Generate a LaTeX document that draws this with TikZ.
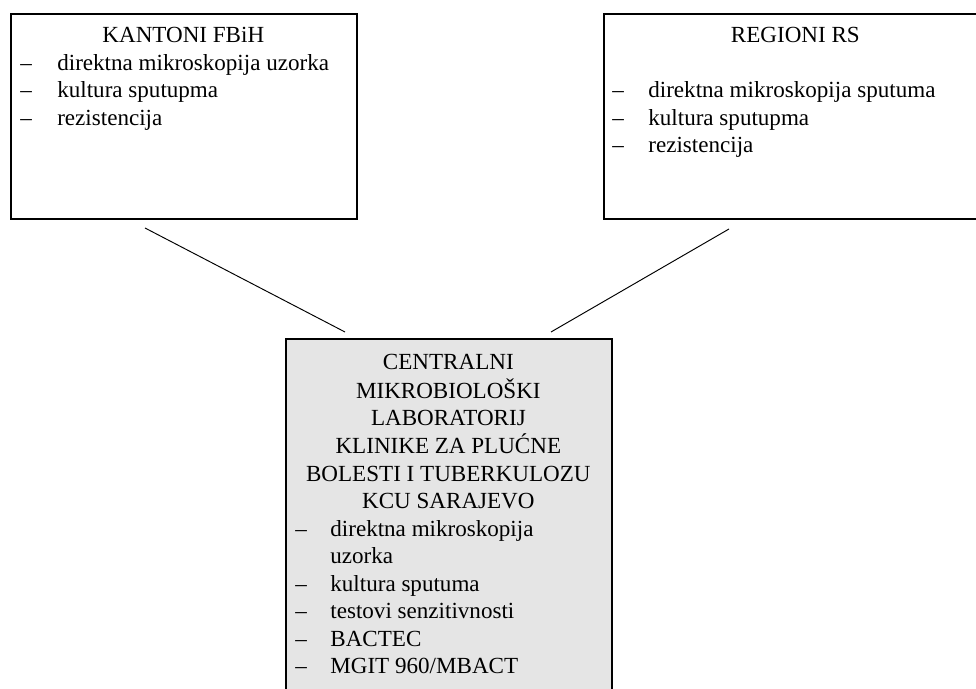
\documentclass[tikz,border=0pt]{standalone}
\usepackage{fontspec}
\setmainfont{Liberation Serif}
\usepackage{tikz}
\usetikzlibrary{positioning}
\definecolor{siva}{gray}{0.9}
\newcommand{\crtica}{\textendash}
\tikzset{okvir/.style={draw, line width=1pt, anchor=north west, inner sep=0pt},
         tekst/.style={anchor=base west, inner sep=0pt, font=\fontsize{12}{14.3}\selectfont},
         veza/.style={line width=0.5pt}}

\begin{document}
\begin{tikzpicture}[x=0.52pt, y=-0.52pt]
    \clip (0,0) rectangle (976,689);
    \node[okvir, minimum width=179.9pt, minimum height=106.6pt] (kantoni) at (10,13) {};
    \node[okvir, minimum width=206.4pt, minimum height=106.6pt] (regioni) at (603,13) {};
    \node[okvir, fill=siva, minimum width=169.5pt, minimum height=208pt] (centralni) at (285,338) {};
    \node[tekst] (kantoni-txt) at (20,43) {\begin{tabular}[t]{@{}p{19.2pt}@{}p{150.3pt}@{}}
      \multicolumn{2}{@{}c@{}}{KANTONI FBiH}\\
      \crtica & direktna mikroskopija uzorka\\
      \crtica & kultura sputupma\\
      \crtica & rezistencija
    \end{tabular}};
    \node[tekst] (regioni-txt) at (612,43) {\begin{tabular}[t]{@{}p{18.7pt}@{}p{171.6pt}@{}}
      \multicolumn{2}{@{}c@{}}{REGIONI RS}\\
      \multicolumn{2}{@{}c@{}}{}\\
      \crtica & direktna mikroskopija sputuma\\
      \crtica & kultura sputupma\\
      \crtica & rezistencija
    \end{tabular}};
    \node[tekst] (centralni-txt) at (295,370) {\begin{tabular}[t]{@{}p{18.2pt}@{}p{140.9pt}@{}}
      \multicolumn{2}{@{}c@{}}{CENTRALNI}\\
      \multicolumn{2}{@{}c@{}}{MIKROBIOLOŠKI}\\
      \multicolumn{2}{@{}c@{}}{LABORATORIJ}\\
      \multicolumn{2}{@{}c@{}}{KLINIKE ZA PLUĆNE}\\
      \multicolumn{2}{@{}c@{}}{BOLESTI I TUBERKULOZU}\\
      \multicolumn{2}{@{}c@{}}{KCU SARAJEVO}\\
      \crtica & direktna mikroskopija\\
              & uzorka\\
      \crtica & kultura sputuma\\
      \crtica & testovi senzitivnosti\\
      \crtica & BACTEC\\
      \crtica & MGIT 960/MBACT
    \end{tabular}};
    % slobodni krajevi veza
    \coordinate (kantoni-veza) at (145,228);
    \coordinate (regioni-veza) at (729,229);
    \coordinate (centralni-lijevo) at (345,332);
    \coordinate (centralni-desno) at (551,332);
  \path[veza]
    (kantoni-veza) edge (centralni-lijevo)
    (regioni-veza) edge (centralni-desno);
\end{tikzpicture}
\end{document}
